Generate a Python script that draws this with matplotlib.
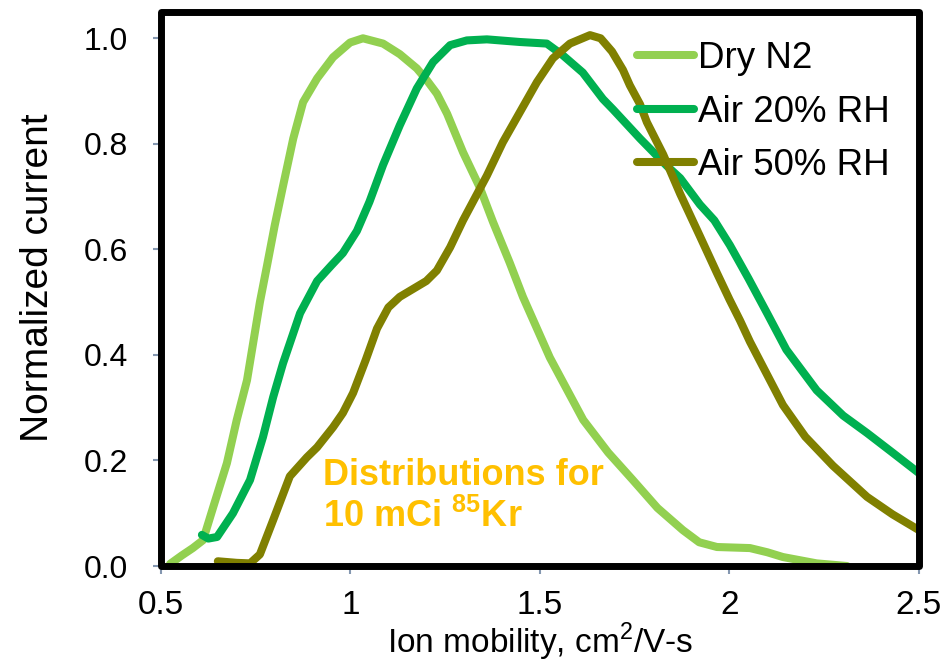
import matplotlib
matplotlib.use("Agg")
import matplotlib.pyplot as plt
from matplotlib.patches import Rectangle

plt.rcParams['font.family'] = ['Liberation Sans', 'DejaVu Sans']
plt.rcParams['mathtext.fontset'] = 'custom'
plt.rcParams['mathtext.rm'] = 'Liberation Sans'
plt.rcParams['mathtext.bf'] = 'Liberation Sans:bold'

# values
dry_x = [0.524, 0.555, 0.584, 0.611, 0.638, 0.674, 0.70, 0.727, 0.761, 0.78, 0.80,
         0.822, 0.849, 0.875, 0.912, 0.954, 0.999, 1.033, 1.086, 1.13, 1.175,
         1.202, 1.228, 1.255, 1.297, 1.342, 1.376, 1.42, 1.455, 1.526, 1.614,
         1.68, 1.745, 1.81, 1.877, 1.92, 1.967, 2.054, 2.10, 2.141, 2.23, 2.31]
dry_y = [0.004, 0.02, 0.034, 0.049, 0.112, 0.195, 0.277, 0.352, 0.50, 0.57, 0.645,
         0.72, 0.81, 0.879, 0.924, 0.964, 0.992, 1.0, 0.99, 0.97, 0.943,
         0.92, 0.895, 0.857, 0.784, 0.716, 0.652, 0.575, 0.51, 0.395, 0.277,
         0.215, 0.163, 0.11, 0.068, 0.045, 0.036, 0.034, 0.026, 0.017, 0.005, 0.0]

rh20_x = [0.608, 0.625, 0.648, 0.69, 0.735, 0.769, 0.796, 0.822, 0.867, 0.912, 0.95,
          0.98, 1.017, 1.05, 1.086, 1.13, 1.175, 1.218, 1.263, 1.307, 1.36,
          1.447, 1.518, 1.56, 1.613, 1.666, 1.693, 1.764, 1.835, 1.87, 1.922,
          1.96, 2.001, 2.05, 2.10, 2.15, 2.23, 2.30, 2.363, 2.43, 2.5]
rh20_y = [0.059, 0.052, 0.055, 0.10, 0.163, 0.244, 0.32, 0.384, 0.479, 0.54, 0.57,
          0.593, 0.635, 0.69, 0.76, 0.835, 0.905, 0.955, 0.987, 0.996, 0.998,
          0.993, 0.99, 0.968, 0.935, 0.885, 0.865, 0.81, 0.758, 0.735, 0.685,
          0.655, 0.608, 0.545, 0.478, 0.41, 0.333, 0.285, 0.252, 0.215, 0.176]

rh50_x = [0.65, 0.70, 0.735, 0.761, 0.796, 0.84, 0.885, 0.912, 0.954, 0.98, 1.007,
          1.04, 1.07, 1.10, 1.13, 1.20, 1.228, 1.263, 1.297, 1.36, 1.402,
          1.447, 1.492, 1.534, 1.579, 1.632, 1.66, 1.69, 1.719, 1.737, 1.764,
          1.782, 1.825, 1.87, 1.922, 1.967, 2.0, 2.028, 2.054, 2.141, 2.20,
          2.273, 2.363, 2.43, 2.5]
rh50_y = [0.009, 0.006, 0.005, 0.022, 0.087, 0.17, 0.206, 0.225, 0.263, 0.29, 0.328,
          0.39, 0.45, 0.49, 0.51, 0.54, 0.56, 0.604, 0.655, 0.74, 0.803,
          0.86, 0.917, 0.962, 0.99, 1.006, 1.0, 0.975, 0.94, 0.911, 0.875,
          0.841, 0.78, 0.705, 0.625, 0.555, 0.505, 0.465, 0.425, 0.305, 0.245,
          0.19, 0.131, 0.098, 0.068]

series = [("Dry N2", dry_x, dry_y, "#92D050"),
          ("Air 20% RH", rh20_x, rh20_y, "#00B050"),
          ("Air 50% RH", rh50_x, rh50_y, "#808000")]

fig = plt.figure(figsize=(9.48, 6.62), dpi=100)
ax = fig.add_axes([0.1698, 0.145, 0.7996, 0.837])

for name, xs, ys, col in series:
    ax.plot(xs, ys, color=col, lw=5.8, label=name,
            solid_capstyle='round', solid_joinstyle='round')

ax.set_xlim(0.5, 2.5)
ax.set_ylim(0, 1.05)
ax.set_xticks([0.5, 1, 1.5, 2, 2.5])
ax.set_xticklabels(["0.5", "1", "1.5", "2", "2.5"])
ax.set_yticks([0, 0.2, 0.4, 0.6, 0.8, 1.0])
ax.set_yticklabels(["0.0", "0.2", "0.4", "0.6", "0.8", "1.0"])

for s in ax.spines.values():
    s.set_visible(False)
ax.add_patch(Rectangle((0, 0), 1, 1, transform=ax.transAxes, fill=False,
                       lw=5, ec='black', joinstyle='round', clip_on=False, zorder=5))

ax.tick_params(axis='both', direction='out', length=6, width=1.5, color='#8497B0')
ax.tick_params(axis='y', labelsize=23, pad=18)
ax.tick_params(axis='x', labelsize=24, pad=11)

ax.set_ylabel("Normalized current", fontsize=28)
ax.yaxis.set_label_coords(-0.138, 0.52)
ax.set_xlabel("Ion mobility, cm$^2$/V-s", fontsize=24, labelpad=0)

ax.text(0.214, 0.125, "Distributions for\n10 mCi $^{\\mathbf{85}}$Kr",
        transform=ax.transAxes, color='#FFC000', fontsize=26, fontweight='bold',
        va='center', ha='left', linespacing=1.2)

leg = ax.legend(loc='upper right', bbox_to_anchor=(1.0, 1.0), frameon=False,
                fontsize=26.5, handlelength=1.55, handletextpad=0.1,
                labelspacing=0.5, borderaxespad=0.4)

fig.savefig("out.png", dpi=100)
